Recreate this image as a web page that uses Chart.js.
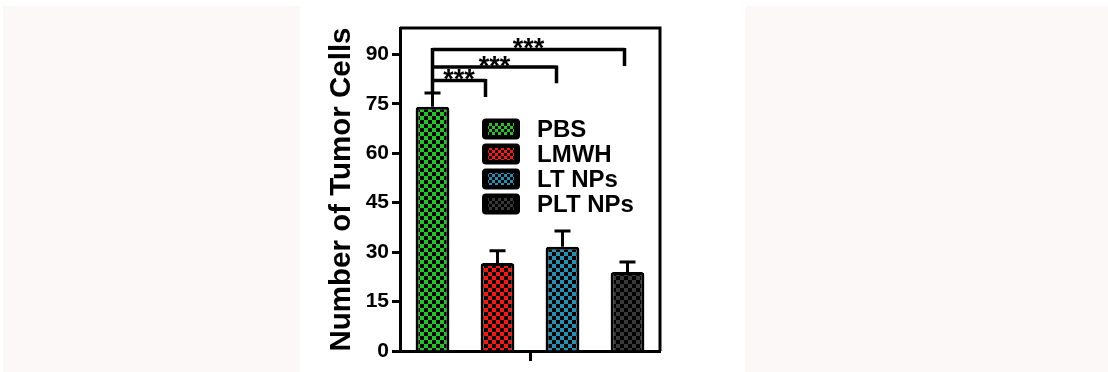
<!DOCTYPE html>
<html>
<head>
<meta charset="utf-8">
<script src="https://cdn.jsdelivr.net/npm/chart.js@4.4.0/dist/chart.umd.min.js"></script>
<style>
html, body { margin: 0; padding: 0; background: #fff; }
#wrap { position: relative; width: 1108px; height: 372px; overflow: hidden; }
.tint { position: absolute; top: 6px; bottom: 0; background: #fcf8f7; }
#leftTint { left: 3px; width: 297px; }
#rightTint { left: 745px; right: 0; }
canvas { position: absolute; left: 0; top: 0; }
</style>
</head>
<body>
<div id="wrap">
  <div class="tint" id="leftTint"></div>
  <div class="tint" id="rightTint"></div>
  <canvas id="myChart" width="1108" height="372"></canvas>
</div>
<script>
// data
const groups = ['PBS', 'LMWH', 'LT NPs', 'PLT NPs'];
const means = [74.1, 26.7, 31.6, 24.0];
const errors = [4.2, 3.7, 4.8, 3.0];
const barColors = ['#1ec81e', '#ff1414', '#2391b3', '#383838'];
const yMax = 98;
const yStep = 15;

// significance brackets: PBS vs each other group
const compareTo = [1, 2, 3];
const compareLevel = [82.1, 86.2, 91.5];
const compareLabel = ['***', '***', '***'];
const dropBy = 5;

const FONT = 'Arial, "Liberation Sans", Helvetica, sans-serif';
const bracketNudge = [-12, -6, -3];

const ctx = document.getElementById('myChart');
const g2d = ctx.getContext('2d');

function checker(color, size) {
    const c = document.createElement('canvas');
    c.width = size * 2;
    c.height = size * 2;
    const g = c.getContext('2d');
    g.fillStyle = '#000';
    g.fillRect(0, 0, size * 2, size * 2);
    g.fillStyle = color;
    g.fillRect(0, 0, size, size);
    g.fillRect(size, size, size, size);
    return g2d.createPattern(c, 'repeat');
}

const datasets = groups.map(function (name, i) {
    return {
        label: name,
        data: [means[i]],
        err: errors[i],
        swatch: checker(barColors[i], 3),
        backgroundColor: checker(barColors[i], 4),
        borderColor: '#000',
        borderWidth: 3,
        borderRadius: 3,
        borderSkipped: 'start'
    };
});

//error bars + brackets with stars
const annotate = {
    id: 'annotate',
    afterDatasetsDraw(chart) {
        const c = chart.ctx;
        const y = chart.scales.y;
        c.save();
        c.strokeStyle = '#000';
        c.lineWidth = 3;
        c.lineCap = 'butt';
        chart.data.datasets.forEach(function (ds, i) {
            const bar = chart.getDatasetMeta(i).data[0];
            const top = y.getPixelForValue(ds.data[0] + ds.err);
            c.beginPath();
            c.moveTo(bar.x, bar.y);
            c.lineTo(bar.x, top);
            c.moveTo(bar.x - 8, top);
            c.lineTo(bar.x + 8, top);
            c.stroke();
        });

        const base = chart.getDatasetMeta(0).data[0];
        const ds0 = chart.data.datasets[0];
        const stemTop = y.getPixelForValue(Math.max(...compareLevel));
        const stemBottom = y.getPixelForValue(ds0.data[0] + ds0.err);

        // stars first, lines over them
        c.fillStyle = '#000';
        c.font = 'bold 27px ' + FONT;
        c.textAlign = 'center';
        c.textBaseline = 'alphabetic';
        compareTo.forEach(function (t, k) {
            const bx = chart.getDatasetMeta(t).data[0].x + bracketNudge[k];
            const ly = y.getPixelForValue(compareLevel[k]);
            c.fillText(compareLabel[k], (base.x + bx) / 2, ly + 8);
        });

        c.lineWidth = 3.5;
        c.beginPath();
        c.moveTo(base.x, stemBottom);
        c.lineTo(base.x, stemTop - 1.5);
        compareTo.forEach(function (t, k) {
            const bx = chart.getDatasetMeta(t).data[0].x + bracketNudge[k];
            const ly = y.getPixelForValue(compareLevel[k]);
            const dy = y.getPixelForValue(compareLevel[k] - dropBy);
            c.moveTo(base.x, ly);
            c.lineTo(bx, ly);
            c.moveTo(bx, ly - 1.5);
            c.lineTo(bx, dy);
        });
        c.stroke();
        c.restore();
    },
    afterDraw(chart) {
        const c = chart.ctx;
        const a = chart.chartArea;
        c.save();
        // frame top + right
        c.strokeStyle = '#000';
        c.lineWidth = 3;
        c.beginPath();
        c.moveTo(a.left, a.top);
        c.lineTo(a.right, a.top);
        c.lineTo(a.right, a.bottom);
        c.stroke();

        // legend inside plot
        c.font = 'bold 24px ' + FONT;
        c.textAlign = 'left';
        c.textBaseline = 'middle';
        chart.data.datasets.forEach(function (ds, i) {
            const cy = a.top + 101 + i * 25;
            const sx = a.left + 82;
            c.fillStyle = '#000';
            c.beginPath();
            c.roundRect(sx, cy - 10.5, 38, 21, 4);
            c.fill();
            c.fillStyle = ds.swatch;
            c.fillRect(sx + 6, cy - 6, 26, 12);
            c.fillStyle = '#000';
            c.fillText(ds.label, a.left + 137, cy + 1);
        });
        c.restore();
    }
};

const chart = new Chart(ctx, {
    type: 'bar',
    data: {
        labels: [''],
        datasets: datasets
    },
    options: {
        responsive: false,
        animation: false,
        layout: {
            padding: { left: 300, top: 28, right: 448, bottom: 0 }
        },
        datasets: {
            bar: { categoryPercentage: 1, barPercentage: 0.52 }
        },
        plugins: {
            legend: { display: false },
            tooltip: { enabled: false }
        },
        scales: {
            x: {
                offset: true,
                border: { color: '#000', width: 3 },
                grid: {
                    drawOnChartArea: false,
                    offset: false,
                    tickLength: 10,
                    tickWidth: 3,
                    tickColor: '#000'
                },
                ticks: { display: false },
                afterFit: function (s) { s.height = 21; }
            },
            y: {
                min: 0,
                max: yMax,
                border: { color: '#000', width: 3 },
                grid: {
                    drawOnChartArea: false,
                    tickLength: 8,
                    tickWidth: 3,
                    tickColor: '#000'
                },
                ticks: {
                    stepSize: yStep,
                    includeBounds: false,
                    color: '#000',
                    padding: 3,
                    font: { family: FONT, size: 21, weight: 'bold' }
                },
                title: {
                    display: true,
                    text: 'Number of Tumor Cells',
                    color: '#000',
                    padding: { top: 24, bottom: 0 },
                    font: { family: FONT, size: 29.5, weight: 'bold' }
                },
                afterFit: function (s) { s.width = 100; }
            }
        }
    },
    plugins: [annotate]
});
</script>
</body>
</html>
